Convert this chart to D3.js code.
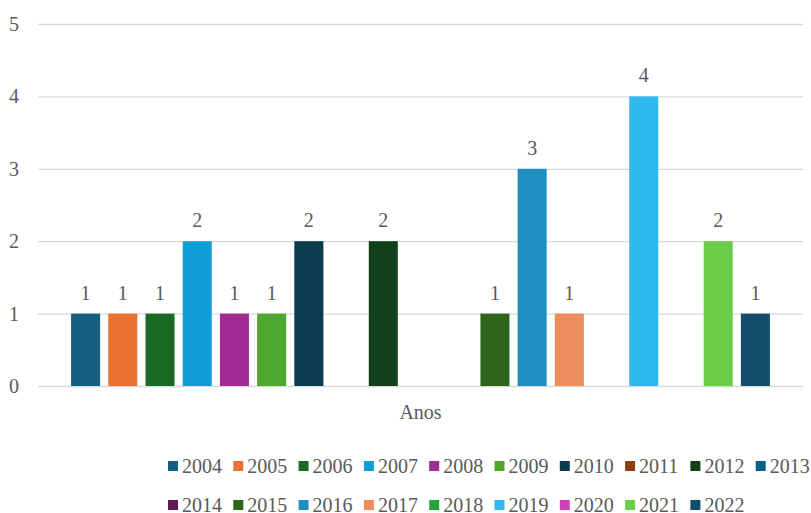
<!DOCTYPE html>
<html>
<head>
<meta charset="utf-8">
<script src="https://cdn.jsdelivr.net/npm/d3@7"></script>
<style>
  body { margin: 0; background: #fff; }
  svg text { font-family: "Liberation Serif", "Times New Roman", Times, "DejaVu Serif", serif; fill: #595959; }
</style>
</head>
<body>
<svg></svg>
<script>
const width = 811;
const height = 513;

// ================================
// Data
// ================================
const categories = ['Anos'];
const years = ['2004','2005','2006','2007','2008','2009','2010','2011','2012','2013',
               '2014','2015','2016','2017','2018','2019','2020','2021','2022'];
const counts = [1, 1, 1, 2, 1, 1, 2, null, 2, null, null, 1, 3, 1, null, 4, null, 2, 1];
const yTicks = [0, 1, 2, 3, 4, 5];
const colors = ['#156082','#e97132','#196b24','#0f9ed5','#a02b93','#4ea72e','#0c3a4f','#8c3f13',
                '#11401a','#0b6088','#5f1a56','#2f641c','#1f8fc1','#ed8d5b','#23a535','#2ebaee',
                '#cd41ba','#6ccb47','#124d6a'];

const plot = { left: 38, right: 803, top: 24, bottom: 386 };
const fontStack = '"Liberation Serif", "Times New Roman", Times, "DejaVu Serif", serif';

const svg = d3.select('svg')
  .attr('width', width)
  .attr('height', height);

// ================================
// Scales
// ================================
const x0 = d3.scaleBand()
  .domain(categories)
  .range([plot.left, plot.right])
  .paddingOuter(0.041);

const x1 = d3.scaleBand()
  .domain(years)
  .range([0, x0.bandwidth()])
  .paddingInner(0.22)
  .paddingOuter(0.11);

const y = d3.scaleLinear()
  .domain([0, 5])
  .range([plot.bottom, plot.top]);

const color = d3.scaleOrdinal().domain(years).range(colors);

// ================================
// Gridlines + y labels
// ================================
svg.append('g')
  .attr('transform', `translate(${plot.left},0)`)
  .attr('font-family', null)
  .call(d3.axisLeft(y).tickValues(yTicks).tickFormat(d3.format('d'))
    .tickSize(-(plot.right - plot.left)).tickPadding(19))
  .call(g => g.select('.domain').remove())
  .call(g => g.selectAll('line').attr('stroke', '#d9d9d9').attr('stroke-width', 1.3))
  .call(g => g.selectAll('text')
    .attr('fill', '#595959')
    .style('font-size', '20px')
    .style('font-family', fontStack));

// ================================
// Bars
// ================================
const rows = years.map((yr, i) => ({ year: yr, value: counts[i] }));

const group = svg.append('g')
  .attr('transform', `translate(${x0('Anos')},0)`);

group.selectAll('rect')
  .data(rows.filter(d => d.value != null))
  .enter()
  .append('rect')
    .attr('x', d => x1(d.year))
    .attr('y', d => y(d.value))
    .attr('width', x1.bandwidth())
    .attr('height', d => y(0) - y(d.value))
    .attr('fill', d => color(d.year));

// value labels sit ~14px above the bar top
group.selectAll('text.val')
  .data(rows.filter(d => d.value != null))
  .enter()
  .append('text')
    .attr('class', 'val')
    .attr('x', d => x1(d.year) + x1.bandwidth() / 2)
    .attr('y', d => y(d.value) - 14)
    .attr('text-anchor', 'middle')
    .style('font-size', '20px')
    .style('font-family', fontStack)
    .text(d => d.value);

// category label
svg.append('text')
  .attr('x', x0('Anos') + x0.bandwidth() / 2)
  .attr('y', 412)
  .attr('dy', '0.35em')
  .attr('text-anchor', 'middle')
  .style('font-size', '20px')
  .style('font-family', fontStack)
  .text('Anos');

// ================================
// Legend
// ================================
const perRow = 10;
const legendX = 168;
const legendStep = 65.3;
const rowY = [466, 505];

const legend = svg.append('g')
  .selectAll('g')
  .data(years)
  .enter()
  .append('g')
    .attr('transform', (d, i) => `translate(${legendX + (i % perRow) * legendStep},${rowY[Math.floor(i / perRow)]})`);

legend.append('rect')
  .attr('x', 0)
  .attr('y', -5)
  .attr('width', 10)
  .attr('height', 10)
  .attr('fill', d => color(d));

legend.append('text')
  .attr('x', 14)
  .attr('y', 0)
  .attr('dy', '0.35em')
  .style('font-size', '20px')
  .style('font-family', fontStack)
  .text(d => d);
</script>
</body>
</html>
